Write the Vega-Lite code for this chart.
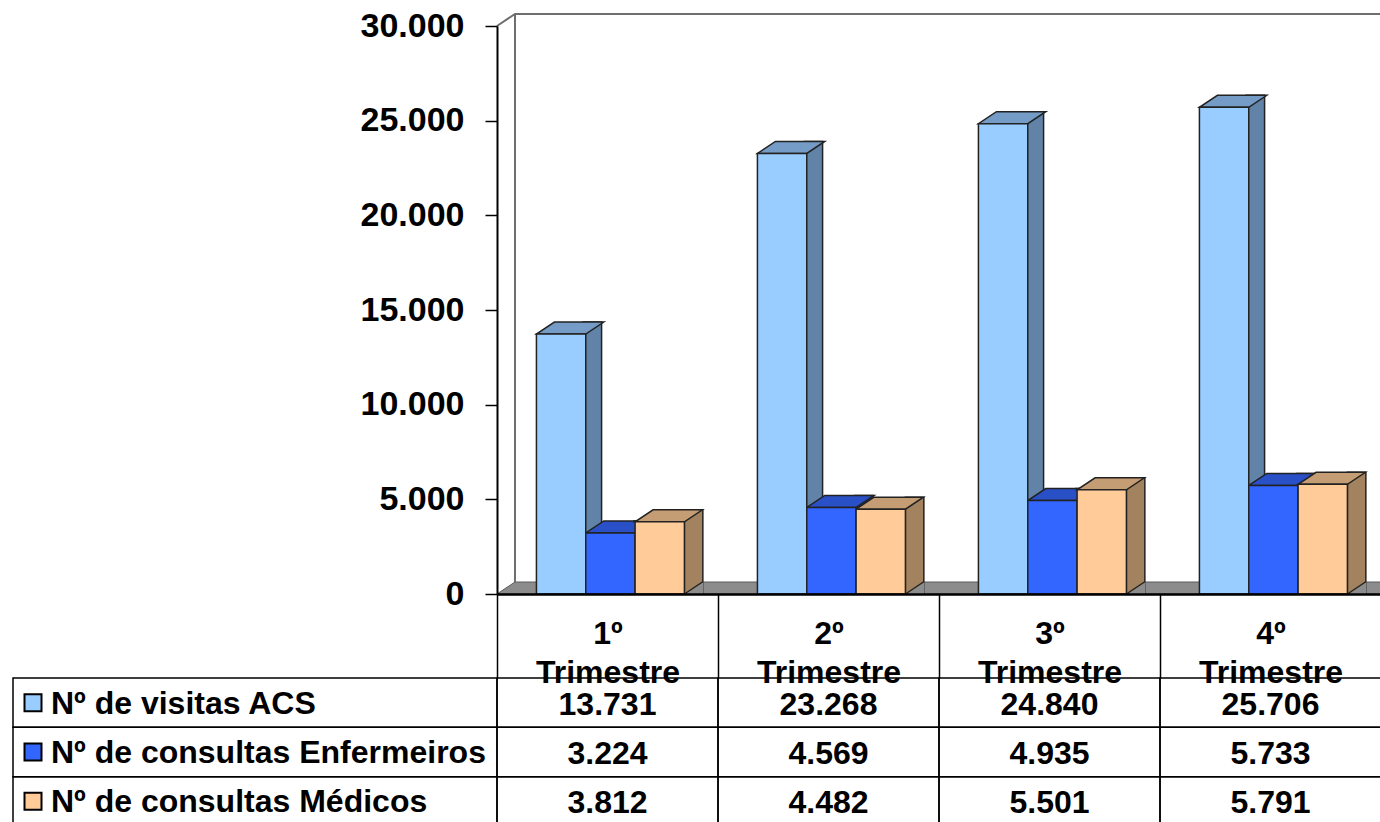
{
  "$schema": "https://vega.github.io/schema/vega-lite/v6.json",
  "background": "white",
  "padding": {"left": 12, "top": 9, "right": 0, "bottom": 0},
  "datasets": {
    "bars": [
      {"q": "1º Trimestre", "s": "Nº de visitas ACS", "v": 13731},
      {"q": "1º Trimestre", "s": "Nº de consultas Enfermeiros", "v": 3224},
      {"q": "1º Trimestre", "s": "Nº de consultas Médicos", "v": 3812},
      {"q": "2º Trimestre", "s": "Nº de visitas ACS", "v": 23268},
      {"q": "2º Trimestre", "s": "Nº de consultas Enfermeiros", "v": 4569},
      {"q": "2º Trimestre", "s": "Nº de consultas Médicos", "v": 4482},
      {"q": "3º Trimestre", "s": "Nº de visitas ACS", "v": 24840},
      {"q": "3º Trimestre", "s": "Nº de consultas Enfermeiros", "v": 4935},
      {"q": "3º Trimestre", "s": "Nº de consultas Médicos", "v": 5501},
      {"q": "4º Trimestre", "s": "Nº de visitas ACS", "v": 25706},
      {"q": "4º Trimestre", "s": "Nº de consultas Enfermeiros", "v": 5733},
      {"q": "4º Trimestre", "s": "Nº de consultas Médicos", "v": 5791}
    ],
    "series": [
      {"s": "Nº de visitas ACS"},
      {"s": "Nº de consultas Enfermeiros"},
      {"s": "Nº de consultas Médicos"}
    ]
  },
  "columns": 2,
  "spacing": {"row": 84, "column": 0},
  "bounds": "flush",
  "align": "each",
  "concat": [
    {
      "width": 484,
      "height": 568,
      "data": {"values": [{"t": ""}]},
      "mark": "text",
      "encoding": {"text": {"field": "t"}}
    },
    {
      "width": 884,
      "height": 568,
      "data": {"name": "bars"},
      "resolve": {"scale": {"xOffset": "independent", "fill": "independent"}},
      "encoding": {
        "x": {
          "field": "q", "type": "nominal",
          "scale": {"domain": ["1º Trimestre", "2º Trimestre", "3º Trimestre", "4º Trimestre"], "paddingInner": 0, "paddingOuter": 0},
          "axis": {
            "title": null, "orient": "bottom", "labelAngle": 0,
            "labelExpr": "split(datum.label, ' ')",
            "labelFont": "Liberation Sans", "labelFontWeight": "bold", "labelFontSize": 32,
            "labelColor": "black", "labelLineHeight": 39, "labelBaseline": "top",
            "labelPadding": -60,
            "tickBand": "extent", "tickSize": 84, "tickColor": "black", "tickWidth": 1.5,
            "domainColor": "black", "domainWidth": 2.5, "zindex": 1
          }
        },
        "y": {
          "field": "v", "type": "quantitative",
          "scale": {"domain": [0, 30000], "nice": false, "zero": true},
          "axis": {
            "title": null, "values": [0, 5000, 10000, 15000, 20000, 25000, 30000],
            "format": ",d", "labelFont": "Liberation Sans", "labelFontWeight": "bold",
            "labelFontSize": 34, "labelColor": "black", "labelPadding": 21, "labelFlush": false,
            "tickSize": 12, "tickColor": "black", "tickWidth": 1.5,
            "domainColor": "black", "domainWidth": 2, "grid": false, "zindex": 1
          }
        }
      },
      "layer": [
        {
          "transform": [{"filter": "datum.q == '1º Trimestre' && datum.s == 'Nº de visitas ACS'"}],
          "mark": {"type": "point", "shape": "M -64.1 0 L -46.1 -12 L 819.9 -12 L 819.9 0 Z", "size": 4, "filled": true, "fill": "#8C8C8C", "stroke": "#5A5A5A", "strokeWidth": 1, "opacity": 1},
          "encoding": {
            "xOffset": {
              "field": "s", "type": "nominal",
              "scale": {"type": "band", "domain": ["Nº de visitas ACS", "Nº de consultas Enfermeiros", "Nº de consultas Médicos"], "paddingInner": 0, "paddingOuter": 0.74, "align": 0.54}
            },
            "y": {"datum": 0, "type": "quantitative"}
          }
        },
        {
          "transform": [{"filter": "datum.q == '1º Trimestre' && datum.s == 'Nº de visitas ACS'"}],
          "mark": {"type": "point", "shape": "M -64.1 0 L -46.1 -12 L 819.9 -12 M -46.1 -12 L -46.1 556", "size": 4, "filled": false, "stroke": "#6E6E6E", "strokeWidth": 2, "opacity": 1},
          "encoding": {
            "xOffset": {
              "field": "s", "type": "nominal",
              "scale": {"type": "band", "domain": ["Nº de visitas ACS", "Nº de consultas Enfermeiros", "Nº de consultas Médicos"], "paddingInner": 0, "paddingOuter": 0.74, "align": 0.54}
            },
            "y": {"datum": 30000, "type": "quantitative"}
          }
        },
        {
          "mark": {"type": "bar", "yOffset": -12, "stroke": "#222222", "strokeWidth": 1.5},
          "encoding": {
            "xOffset": {
              "field": "s", "type": "nominal",
              "scale": {"domain": ["Nº de visitas ACS", "Nº de consultas Enfermeiros", "Nº de consultas Médicos"], "paddingInner": 0.6351, "paddingOuter": 1.0576, "align": 0.8504}
            },
            "y2": {"datum": 0},
            "fill": {
              "field": "s", "type": "nominal", "legend": null,
              "scale": {"domain": ["Nº de visitas ACS", "Nº de consultas Enfermeiros", "Nº de consultas Médicos"], "range": ["#6283A8", "#2240A8", "#A3825F"]}
            }
          }
        },
        {
          "mark": {"type": "point", "shape": "M 24.67 1 L 43.6 1 L 43.6 -12 Z", "size": 4, "filled": true, "fill": "#8C8C8C", "strokeWidth": 0, "opacity": 1},
          "encoding": {
            "xOffset": {
              "field": "s", "type": "nominal",
              "scale": {"type": "band", "domain": ["Nº de visitas ACS", "Nº de consultas Enfermeiros", "Nº de consultas Médicos"], "paddingInner": 0, "paddingOuter": 0.74, "align": 0.54}
            },
            "y": {"datum": 0, "type": "quantitative"}
          }
        },
        {
          "mark": {"type": "point", "shape": "M 24.67 0 L 42.67 -12", "size": 4, "filled": false, "stroke": "#222222", "strokeWidth": 1.5, "opacity": 1},
          "encoding": {
            "xOffset": {
              "field": "s", "type": "nominal",
              "scale": {"type": "band", "domain": ["Nº de visitas ACS", "Nº de consultas Enfermeiros", "Nº de consultas Médicos"], "paddingInner": 0, "paddingOuter": 0.74, "align": 0.54}
            },
            "y": {"datum": 0, "type": "quantitative"}
          }
        },
        {
          "mark": {"type": "point", "shape": "M -24.67 0 L 24.67 0 L 42.67 -12 L -6.67 -12 Z", "size": 4, "filled": true, "stroke": "#222222", "strokeWidth": 1.5, "opacity": 1},
          "encoding": {
            "xOffset": {
              "field": "s", "type": "nominal",
              "scale": {"type": "band", "domain": ["Nº de visitas ACS", "Nº de consultas Enfermeiros", "Nº de consultas Médicos"], "paddingInner": 0, "paddingOuter": 0.74, "align": 0.54}
            },
            "fill": {
              "field": "s", "type": "nominal", "legend": null,
              "scale": {"domain": ["Nº de visitas ACS", "Nº de consultas Enfermeiros", "Nº de consultas Médicos"], "range": ["#759CC6", "#2A50C8", "#C59D74"]}
            }
          }
        },
        {
          "mark": {"type": "bar", "stroke": "#222222", "strokeWidth": 1.5},
          "encoding": {
            "xOffset": {
              "field": "s", "type": "nominal",
              "scale": {"type": "band", "domain": ["Nº de visitas ACS", "Nº de consultas Enfermeiros", "Nº de consultas Médicos"], "paddingInner": 0, "paddingOuter": 0.74, "align": 0.54}
            },
            "fill": {
              "field": "s", "type": "nominal", "legend": null,
              "scale": {"domain": ["Nº de visitas ACS", "Nº de consultas Enfermeiros", "Nº de consultas Médicos"], "range": ["#99CCFF", "#3366FF", "#FFCC99"]}
            }
          }
        }
      ]
    },
    {
      "width": 484,
      "height": 148,
      "data": {"name": "series"},
      "encoding": {
        "x": {"datum": 0, "type": "quantitative", "scale": {"domain": [0, 1]}, "axis": null},
        "y": {
          "field": "s", "type": "nominal", "axis": null,
          "scale": {"domain": ["Nº de visitas ACS", "Nº de consultas Enfermeiros", "Nº de consultas Médicos"], "paddingInner": 0, "paddingOuter": 0}
        }
      },
      "layer": [
        {
          "mark": {"type": "rect", "filled": false, "stroke": "black", "strokeWidth": 1.5},
          "encoding": {"x2": {"datum": 1}}
        },
        {
          "mark": {"type": "point", "shape": "square", "size": 289, "filled": true, "stroke": "black", "strokeWidth": 2, "xOffset": 20, "opacity": 1},
          "encoding": {
            "fill": {
              "field": "s", "type": "nominal", "legend": null,
              "scale": {"domain": ["Nº de visitas ACS", "Nº de consultas Enfermeiros", "Nº de consultas Médicos"], "range": ["#99CCFF", "#3366FF", "#FFCC99"]}
            }
          }
        },
        {
          "mark": {"type": "text", "align": "left", "baseline": "middle", "dx": 38, "dy": 1, "font": "Liberation Sans", "fontWeight": "bold", "fontSize": 32, "color": "black"},
          "encoding": {"text": {"field": "s"}}
        }
      ]
    },
    {
      "width": 884,
      "height": 148,
      "data": {"name": "bars"},
      "encoding": {
        "x": {
          "field": "q", "type": "nominal", "axis": null,
          "scale": {"domain": ["1º Trimestre", "2º Trimestre", "3º Trimestre", "4º Trimestre"], "paddingInner": 0, "paddingOuter": 0}
        },
        "y": {
          "field": "s", "type": "nominal", "axis": null,
          "scale": {"domain": ["Nº de visitas ACS", "Nº de consultas Enfermeiros", "Nº de consultas Médicos"], "paddingInner": 0, "paddingOuter": 0}
        }
      },
      "layer": [
        {
          "mark": {"type": "rect", "filled": false, "stroke": "black", "strokeWidth": 1.5}
        },
        {
          "mark": {"type": "text", "align": "center", "baseline": "middle", "dy": 2, "font": "Liberation Sans", "fontWeight": "bold", "fontSize": 32, "color": "black"},
          "encoding": {"text": {"field": "v", "type": "quantitative", "format": ",d"}}
        }
      ]
    }
  ],
  "config": {
    "view": {"stroke": null},
    "font": "Liberation Sans",
    "locale": {"number": {"decimal": ",", "thousands": ".", "grouping": [3], "currency": ["R$", ""]}}
  }
}
